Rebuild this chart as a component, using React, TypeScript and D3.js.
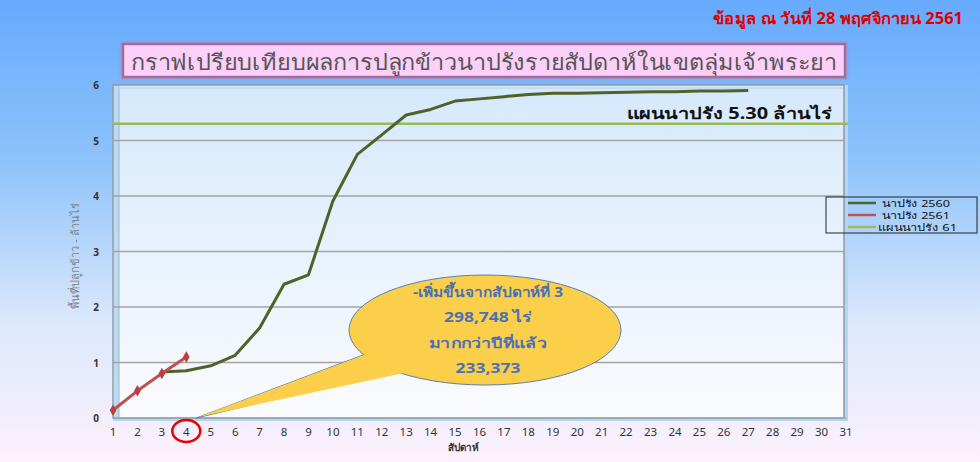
import React from "react";
import * as d3 from "d3";

const weeks = d3.range(1, 32);
const weeks2560 = [3, 4, 5, 6, 7, 8, 9, 10, 11, 12, 13, 14, 15, 16, 17, 18, 19, 20, 21, 22, 23, 24, 25, 26, 27];
const values2560 = [0.83, 0.85, 0.94, 1.13, 1.62, 2.41, 2.58, 3.91, 4.75, 5.1, 5.46, 5.56, 5.71, 5.75, 5.79, 5.83, 5.85, 5.85, 5.86, 5.87, 5.88, 5.88, 5.89, 5.89, 5.9];
const weeks2561 = [1, 2, 3, 4];
const values2561 = [0.14, 0.49, 0.8, 1.1];
const planValue = 5.3;
const yTicks = [0, 1, 2, 3, 4, 5, 6];
const seriesNames = ["นาปรัง 2560", "นาปรัง 2561", "แผนนาปรัง 61"];
const calloutLines = ["-เพิ่มขึ้นจากสัปดาห์ที่ 3", "298,748 ไร่", "มากกว่าปีที่แล้ว", "233,373"];

const C2560 = "#4f6228";
const C2561 = "#c0504d";
const CPLAN = "#9bbb59";
const FONT = "'Noto Sans', 'DejaVu Sans', sans-serif";

export default function App() {
  const W = 980, H = 462;
  const L = 113, R = 846, T = 85, B = 418;
  const x = d3.scaleLinear().domain([1, 31]).range([L, R]);
  const y = d3.scaleLinear().domain([0, 6]).range([B, T]);

  const line = d3.line<[number, number]>().x(d => x(d[0])).y(d => y(d[1]));
  const d2560 = line(weeks2560.map((w, i) => [w, values2560[i]] as [number, number])) || "";
  const d2561 = line(weeks2561.map((w, i) => [w, values2561[i]] as [number, number])) || "";
  const diamond = d3.symbol().type(d3.symbolDiamond).size(38)() || "";

  const ecx = 485, ecy = 330, erx = 136, ery = 55;
  const tipX = x(4) + 10, tipY = y(0);
  const tail = `M${tipX},${tipY} L363,355 L397,370 Z`;
  const tailInner = `M${tipX + 2},${tipY - 1} L372,352 L404,373 Z`;

  const calloutY = [297, 322, 348, 373];
  const calloutW = [150, 88, 118, 65];
  const legendY = [203, 215, 227];
  const legendW = [68, 68, 79];

  return (
    <svg width={W} height={H} style={{ position: "absolute", left: 0, top: 0, display: "block" }}>
      <defs>
        <linearGradient id="bg" x1="0" y1="0" x2="0" y2="1">
          <stop offset="0" stopColor="#66aafd" />
          <stop offset="0.35" stopColor="#8ec3fb" />
          <stop offset="0.7" stopColor="#dce8fc" />
          <stop offset="1" stopColor="#fdf1fc" />
        </linearGradient>
        <linearGradient id="plot" x1="0" y1="0" x2="0" y2="1">
          <stop offset="0" stopColor="#d5e9fc" />
          <stop offset="1" stopColor="#fbfbfe" />
        </linearGradient>
        <filter id="glow" x="-5%" y="-30%" width="110%" height="160%">
          <feGaussianBlur stdDeviation="1.5" />
        </filter>
      </defs>
      <rect x={0} y={0} width={W} height={H} fill="url(#bg)" />

      <text x={963} y={24} textAnchor="end" fill="#e00000" fontWeight="bold" fontSize={16}
        fontFamily={FONT} textLength={250} lengthAdjust="spacingAndGlyphs">ข้อมูล ณ  วันที่ 28 พฤศจิกายน 2561</text>

      <rect x={121} y={42} width={726} height={37} fill="#c07ab0" opacity={0.6} filter="url(#glow)" />
      <rect x={123} y={44} width={722} height={33} fill="#fcd0f9" stroke="#a86b98" strokeWidth={2.5} />
      <text x={484} y={70} textAnchor="middle" fill="#555" fontSize={22} fontFamily={FONT}
        textLength={706} lengthAdjust="spacingAndGlyphs">กราฟเปรียบเทียบผลการปลูกข้าวนาปรังรายสัปดาห์ในเขตลุ่มเจ้าพระยา</text>

      <rect x={L} y={T} width={R - L + 2} height={B - T + 3} fill="#b7d6ee" />
      <rect x={L} y={T} width={R - L - 2} height={B - T} fill="url(#plot)" stroke="#8d9aa6" strokeWidth={1.5} />
      <rect x={L + 1} y={T + 1} width={5} height={B - T - 2} fill="#bcdaf0" />
      <line x1={L + 6} y1={T + 1} x2={L + 6} y2={B - 1} stroke="#9fb6c8" strokeWidth={1} />
      <line x1={L + 6} y1={T + 3} x2={R - 3} y2={T + 3} stroke="#c4dcf0" strokeWidth={2} />

      {yTicks.filter(v => v > 0 && v < 6).map(v => (
        <line key={v} x1={L} x2={R - 2} y1={y(v)} y2={y(v)} stroke="#a3a3a3" strokeWidth={1.3} />
      ))}
      <line x1={L} x2={R} y1={B} y2={B} stroke="#9aa8b4" strokeWidth={1.5} />

      {yTicks.map(v => (
        <text key={v} x={96} y={y(v) + 4} textAnchor="middle" fontSize={10} fontWeight="bold"
          fill="#333" fontFamily={FONT}>{v}</text>
      ))}
      {weeks.map(w => (
        <text key={w} x={x(w)} y={436} textAnchor="middle" fontSize={11.5} fill="#333"
          fontFamily={FONT}>{w}</text>
      ))}
      <text x={463} y={451} textAnchor="middle" fontSize={10} fontWeight="bold" fill="#333"
        fontFamily={FONT}>สัปดาห์</text>
      <text transform={`translate(79,256) rotate(-90)`} textAnchor="middle" fontSize={11} fill="#7f7f7f"
        fontFamily={FONT}>พื้นที่ปลูกข้าว - ล้านไร่</text>

      <line x1={L} x2={R + 2} y1={y(planValue)} y2={y(planValue)} stroke={CPLAN} strokeWidth={2.5} />
      <text x={832} y={119} textAnchor="end" fontSize={16} fontWeight="bold" fill="#111"
        fontFamily={FONT} textLength={205} lengthAdjust="spacingAndGlyphs">แผนนาปรัง  5.30 ล้านไร่</text>

      <path d={d2560} fill="none" stroke={C2560} strokeWidth={3} strokeLinejoin="round" />
      <path d={d2561} fill="none" stroke={C2561} strokeWidth={3} strokeLinejoin="round" />
      {weeks2561.map((w, i) => (
        <path key={w} d={diamond} transform={`translate(${x(w)},${y(values2561[i])})`} fill="#b8403d" />
      ))}

      <path d={tail} fill="#fbcf4a" stroke="#5b7fb0" strokeWidth={1} />
      <ellipse cx={ecx} cy={ecy} rx={erx} ry={ery} fill="#fbcf4a" stroke="#5b7fb0" strokeWidth={1} />
      <path d={tailInner} fill="#fbcf4a" />
      {calloutLines.map((t, i) => (
        <text key={i} x={488} y={calloutY[i]} textAnchor="middle" fontSize={14} fontWeight="bold"
          fill="#4a72b8" fontFamily={FONT} textLength={calloutW[i]} lengthAdjust="spacingAndGlyphs">{t}</text>
      ))}

      <ellipse cx={x(4)} cy={431} rx={14} ry={11} fill="none" stroke="#e80000" strokeWidth={2.5} />

      <rect x={826} y={197} width={151} height={36} fill="none" stroke="#222" strokeWidth={1} />
      {seriesNames.map((n, i) => {
        const ly = legendY[i];
        const c = [C2560, C2561, CPLAN][i];
        return (
          <g key={n}>
            <line x1={848} x2={876} y1={ly} y2={ly} stroke={c} strokeWidth={2.5} />
            <text x={i === 2 ? 878 : 882} y={ly + 3.5} fontSize={9.5} fill="#111" fontFamily={FONT}
              textLength={legendW[i]} lengthAdjust="spacingAndGlyphs">{n}</text>
          </g>
        );
      })}
    </svg>
  );
}
